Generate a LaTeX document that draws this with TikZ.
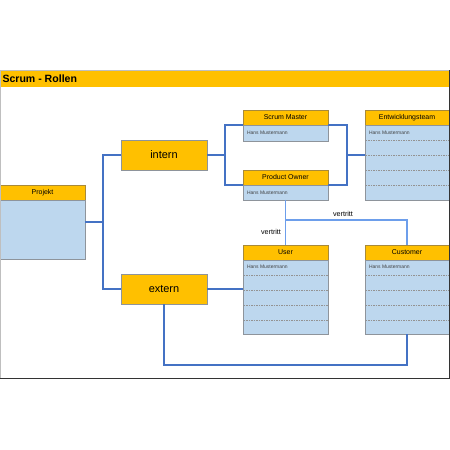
\documentclass[tikz,border=0pt]{standalone}
\usepackage{fontspec}
\setmainfont{Liberation Sans}
\usetikzlibrary{positioning}
\definecolor{hdryellow}{HTML}{FFC000}
\definecolor{bodyblue}{HTML}{BDD7EE}
\definecolor{linkblue}{HTML}{4472C4}
\definecolor{repblue}{HTML}{6D9EEB}
\definecolor{boxgray}{HTML}{8E949B}
\definecolor{hdrgold}{HTML}{A88A3A}

\begin{document}
\begin{tikzpicture}[x=1bp,y=-1bp,
  every node/.style={inner sep=0pt,outer sep=0pt},
  hdr/.style={draw=hdrgold,fill=hdryellow,minimum width=85bp,minimum height=15bp,font=\fontsize{7}{8}\selectfont},
  body/.style={draw=boxgray,fill=bodyblue,minimum width=85bp},
  role/.style={draw=boxgray,fill=hdryellow,minimum width=86bp,minimum height=30bp,font=\fontsize{11}{13}\selectfont},
  person/.style={anchor=west,font=\fontsize{5}{6}\selectfont,text=black!75},
  rowline/.style={draw=gray!85,line width=0.4bp,dash pattern=on 1.5bp off 1bp},
  link/.style={draw=linkblue,line width=1.2bp},
  rep/.style={draw=repblue,line width=1.2bp},
  tag/.style={font=\fontsize{7.2}{8}\selectfont}]
\useasboundingbox[fill=white] (0,0) rectangle (450,450);
\fill[hdryellow] (1,71) rectangle (448.5,87);
\node[anchor=west,font=\fontsize{10.6}{12}\selectfont\bfseries] (title) at (2.5,79) {Scrum - Rollen};

\node[hdr] (prh) at (42.5,192.5) {Projekt};
\node[body,minimum height=59bp] (prb) at (42.5,229.5) {};
\node[role] (intern) at (164,155) {intern};
\node[role] (extern) at (164,289) {extern};

\node[hdr] (smh) at (285.5,117.5) {Scrum Master};
\node[body,minimum height=16bp] (smb) at (285.5,133) {};
\node[person] (smp) at (247,133) {Hans Mustermann};
\node[hdr] (poh) at (285.5,177.5) {Product Owner};
\node[body,minimum height=15bp] (pob) at (285.5,192.5) {};
\node[person] (pop) at (247,192.5) {Hans Mustermann};

\node[hdr,minimum width=84bp] (eth) at (407,117.5) {Entwicklungsteam};
\node[body,minimum width=84bp,minimum height=75bp] (etb) at (407,162.5) {};
\node[person] (etp) at (369,133) {Hans Mustermann};
\foreach \y in {140,155,170,185}
  \draw[rowline] (365.5,\y) -- (448.5,\y);

\node[hdr] (ush) at (285.5,252.5) {User};
\node[body,minimum height=74bp] (usb) at (285.5,297) {};
\node[person] (usp) at (247,267) {Hans Mustermann};
\node[hdr,minimum width=84bp] (cuh) at (407,252.5) {Customer};
\node[body,minimum width=84bp,minimum height=74bp] (cub) at (407,297) {};
\node[person] (cup) at (369,267) {Hans Mustermann};
\foreach \y in {275,290,305,320} {
  \draw[rowline] (243.5,\y) -- (327.5,\y);
  \draw[rowline] (365.5,\y) -- (448.5,\y);
}

\coordinate (j1) at (103,222);
\coordinate (j2) at (225,155);
\coordinate (j3) at (347,155);
\coordinate (j4) at (285.5,220);
\coordinate (j5) at (164,365);

\draw[link] (intern.west) -| (j1) |- (extern.west);
\draw[link] (prb.east |- j1) -- (j1);
\draw[link] (intern.east) -- (j2);
\draw[link] (smh.south west) -| (j2) |- (poh.south west);
\draw[link] (smh.south east) -| (j3) |- (poh.south east);
\draw[link] (j3) -- (j3 -| etb.west);
\draw[link] (extern.east) -- (extern.east -| usb.west);
\draw[link] (extern.south) -- (j5) -| (cub.south);
\draw[rep] (pob.south) -- (ush.north);
\draw[rep] (j4) -| (cuh.north);

\node[tag] (rep1) at (271,232) {vertritt};
\node[tag] (rep2) at (343,214) {vertritt};

\draw[lightgray,line width=1bp] (0.5,378.5) -- (0.5,70.5) -- (449,70.5);
\draw[black!80,line width=1bp] (449,70.5) -- (449,378.5) -- (0.5,378.5);
\end{tikzpicture}
\end{document}
